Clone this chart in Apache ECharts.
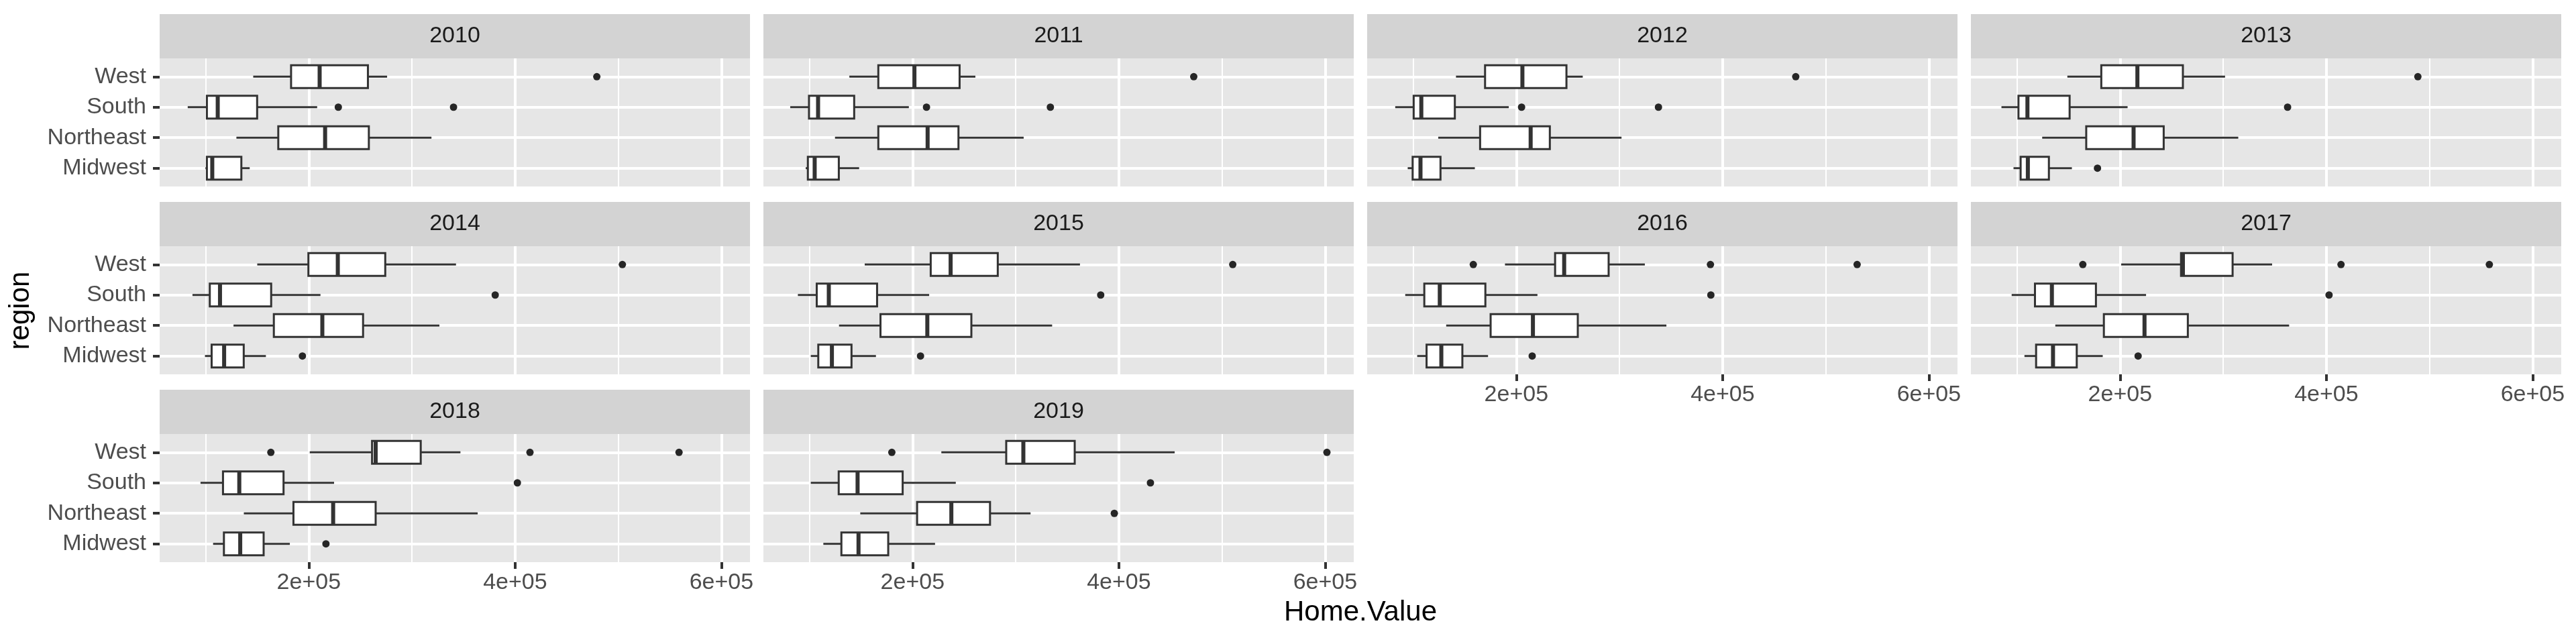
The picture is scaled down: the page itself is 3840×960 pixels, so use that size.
<!DOCTYPE html>
<html>
<head>
<meta charset="utf-8">
<script src="https://cdn.jsdelivr.net/npm/echarts@6/dist/echarts.min.js"></script>
<style>
    html, body { margin: 0; padding: 0; background: #fff; }
    #main { width: 3840px; height: 960px; }
</style>
</head>
<body>
<div id="main"></div>
<script>
    var years = ['2010', '2011', '2012', '2013', '2014', '2015', '2016', '2017', '2018', '2019'];
    var regions = ['Midwest', 'Northeast', 'South', 'West'];
    var majorTicks = [200000, 400000, 600000];
    var minorTicks = [100000, 300000, 500000];

    // [lower whisker, Q1, median, Q3, upper whisker] for Midwest, Northeast, South, West
    var box2010 = [[99800, 101200, 106400, 134600, 142700], [129800, 170400, 215800, 258200, 318900], [82600, 101200, 111700, 149900, 208100], [146100, 182800, 210500, 257300, 275900]];
    var box2011 = [[96400, 98500, 105100, 128500, 148200], [124800, 166800, 214600, 244500, 307700], [81400, 99600, 108400, 143400, 196400], [138700, 166800, 201800, 245600, 260900]];
    var box2012 = [[94700, 99500, 107100, 126500, 159800], [124300, 164900, 213900, 232500, 302000], [82600, 100500, 107900, 140400, 192700], [141500, 169700, 205900, 248600, 264400]];
    var box2013 = [[96700, 103600, 110600, 131000, 153300], [124500, 167200, 213100, 242300, 314600], [85000, 101500, 110200, 151100, 207300], [148900, 181800, 216800, 260900, 301800]];
    var box2014 = [[99300, 105800, 117900, 136900, 158400], [127000, 166100, 213100, 252600, 326600], [87200, 104000, 113900, 163500, 211300], [150000, 199600, 228100, 274100, 342700]];
    var box2015 = [[101300, 108600, 121800, 140800, 164500], [128700, 168900, 214300, 257000, 335300], [88800, 107100, 118800, 165600, 216100], [153600, 217600, 236900, 282600, 362300]];
    var box2016 = [[103900, 113000, 127300, 147700, 172600], [132000, 175100, 216100, 259600, 345500], [92300, 110800, 125800, 170000, 220500], [189000, 237600, 246400, 289500, 324600]];
    var box2017 = [[107300, 118600, 135000, 158000, 183200], [137200, 184300, 223700, 265700, 363900], [94900, 117500, 133900, 176600, 225200], [201100, 259100, 260900, 309100, 347400]];
    var box2018 = [[107200, 117700, 133500, 156200, 181600], [137000, 185100, 223600, 264800, 363700], [95000, 116800, 132600, 175500, 224500], [200900, 261300, 264800, 308500, 347000]];
    var box2019 = [[113500, 131000, 147600, 176400, 221800], [149300, 204400, 237600, 275100, 314400], [101300, 128400, 146700, 190400, 241900], [227900, 290800, 307400, 357200, 454100]];

    // outliers per region (Midwest, Northeast, South, West)
    var out2010 = [[], [], [228600, 340300], [479200]];
    var out2011 = [[], [], [213500, 333600], [472600]];
    var out2012 = [[], [], [205100, 337800], [470900]];
    var out2013 = [[178100], [], [362400], [488700]];
    var out2014 = [[193800], [], [380700], [504000]];
    var out2015 = [[207700], [], [382400], [510400]];
    var out2016 = [[215400], [], [388600], [158300, 388200, 530400]];
    var out2017 = [[217500], [], [402600], [163900, 414200, 558000]];
    var out2018 = [[216600], [], [402200], [163200, 414400, 558900]];
    var out2019 = [[], [395600], [430600], [179900, 601700]];

    var boxes = [box2010, box2011, box2012, box2013, box2014, box2015, box2016, box2017, box2018, box2019];
    var outliers = [out2010, out2011, out2012, out2013, out2014, out2015, out2016, out2017, out2018, out2019];

    var myChart = echarts.init(document.getElementById('main'), null, { renderer: 'canvas' });

    var FONT = 'Liberation Sans';
    var panelLeft = [238, 1138, 2038, 2938];
    var stripTop = [21, 301, 581];
    var panelW = 880, stripH = 66, plotH = 191;
    var ink = '#333333';

    function sci(v) {
        var p = v.toExponential(0).split('e');
        var e = p[1];
        return p[0] + 'e' + e[0] + (e.length < 3 ? '0' : '') + e.slice(1);
    }

    function renderBox(params, api) {
        var y = api.value(0);
        var lo = api.coord([api.value(1), y]);
        var q1 = api.coord([api.value(2), y]);
        var md = api.coord([api.value(3), y]);
        var q3 = api.coord([api.value(4), y]);
        var hi = api.coord([api.value(5), y]);
        var h = api.size([0, 0.75])[1];
        var line = { stroke: ink, lineWidth: 3 };
        return {
            type: 'group',
            children: [
                { type: 'line', shape: { x1: lo[0], y1: lo[1], x2: q1[0], y2: q1[1] }, style: line },
                { type: 'line', shape: { x1: q3[0], y1: q3[1], x2: hi[0], y2: hi[1] }, style: line },
                { type: 'rect', shape: { x: q1[0], y: q1[1] - h / 2, width: q3[0] - q1[0], height: h },
                  style: { fill: '#ffffff', stroke: ink, lineWidth: 3 } },
                { type: 'line', shape: { x1: md[0], y1: md[1] - h / 2, x2: md[0], y2: md[1] + h / 2 },
                  style: { stroke: ink, lineWidth: 6 } }
            ]
        };
    }

    var grids = [], xAxes = [], yAxes = [], series = [], graphics = [];

    years.forEach(function (year, i) {
        var col = i % 4, row = Math.floor(i / 4);
        var left = panelLeft[col], top = stripTop[row];
        var showX = i + 4 >= years.length;
        var showY = col === 0;

        grids.push({
            left: left, top: top + stripH, width: panelW, height: plotH,
            show: true, backgroundColor: '#E6E6E6', borderWidth: 0
        });
        xAxes.push({
            type: 'value', gridIndex: i, min: 55400, max: 627700,
            axisLine: { show: false },
            splitLine: { show: false },
            axisTick: { show: showX, customValues: majorTicks, length: 10, lineStyle: { color: ink, width: 4 } },
            axisLabel: { show: showX, customValues: majorTicks, formatter: sci, margin: 14,
                         fontSize: 34, fontFamily: FONT, color: '#4D4D4D' }
        });
        yAxes.push({
            type: 'value', gridIndex: i, min: 0.4, max: 4.6,
            axisLine: { show: false },
            splitLine: { show: false },
            axisTick: { show: showY, customValues: [1, 2, 3, 4], length: 10, lineStyle: { color: ink, width: 4 } },
            axisLabel: { show: showY, customValues: [1, 2, 3, 4], margin: 20,
                         formatter: function (v) { return regions[Math.round(v) - 1]; },
                         fontSize: 34, fontFamily: FONT, color: '#4D4D4D' }
        });

        // grid lines, kept under the boxes
        series.push({
            type: 'scatter', xAxisIndex: i, yAxisIndex: i, data: [], z: 1, silent: true,
            markLine: {
                z: 1, silent: true, symbol: ['none', 'none'], label: { show: false },
                lineStyle: { color: '#ffffff', width: 2, type: 'solid' },
                data: minorTicks.map(function (v) { return { xAxis: v }; })
            }
        });
        series.push({
            type: 'scatter', xAxisIndex: i, yAxisIndex: i, data: [], z: 1, silent: true,
            markLine: {
                z: 1, silent: true, symbol: ['none', 'none'], label: { show: false },
                lineStyle: { color: '#ffffff', width: 4, type: 'solid' },
                data: majorTicks.map(function (v) { return { xAxis: v }; })
                    .concat(regions.map(function (r, k) { return { yAxis: k + 1 }; }))
            }
        });

        series.push({
            type: 'custom', xAxisIndex: i, yAxisIndex: i, z: 10,
            renderItem: renderBox,
            encode: { x: [1, 2, 3, 4, 5], y: 0 },
            data: boxes[i].map(function (b, k) { return [k + 1].concat(b); })
        });

        var pts = [];
        outliers[i].forEach(function (vals, k) {
            vals.forEach(function (v) { pts.push([v, k + 1]); });
        });
        series.push({
            type: 'scatter', xAxisIndex: i, yAxisIndex: i, z: 11,
            symbolSize: 11, itemStyle: { color: '#262626', opacity: 1 },
            data: pts
        });

        // facet strip
        graphics.push({
            type: 'rect', shape: { x: left, y: top, width: panelW, height: stripH },
            style: { fill: '#D3D3D3' }, silent: true
        });
        graphics.push({
            type: 'text', x: left + panelW / 2, y: top + stripH / 2, silent: true,
            style: { text: year, fontSize: 34, fontFamily: FONT, fill: '#1A1A1A',
                     align: 'center', verticalAlign: 'middle', textAlign: 'center', textVerticalAlign: 'middle' }
        });
    });

    graphics.push({
        type: 'text', x: 2028, y: 913, silent: true,
        style: { text: 'Home.Value', fontSize: 42, fontFamily: FONT, fill: '#000000',
                 align: 'center', verticalAlign: 'middle', textAlign: 'center', textVerticalAlign: 'middle' }
    });
    graphics.push({
        type: 'text', x: 31, y: 463, rotation: Math.PI / 2, silent: true,
        style: { text: 'region', fontSize: 42, fontFamily: FONT, fill: '#000000',
                 align: 'center', verticalAlign: 'middle', textAlign: 'center', textVerticalAlign: 'middle' }
    });

    var option = {
        animation: false,
        backgroundColor: '#ffffff',
        textStyle: { fontFamily: FONT },
        grid: grids,
        xAxis: xAxes,
        yAxis: yAxes,
        graphic: { elements: graphics },
        series: series
    };
    myChart.setOption(option);
</script>
</body>
</html>
